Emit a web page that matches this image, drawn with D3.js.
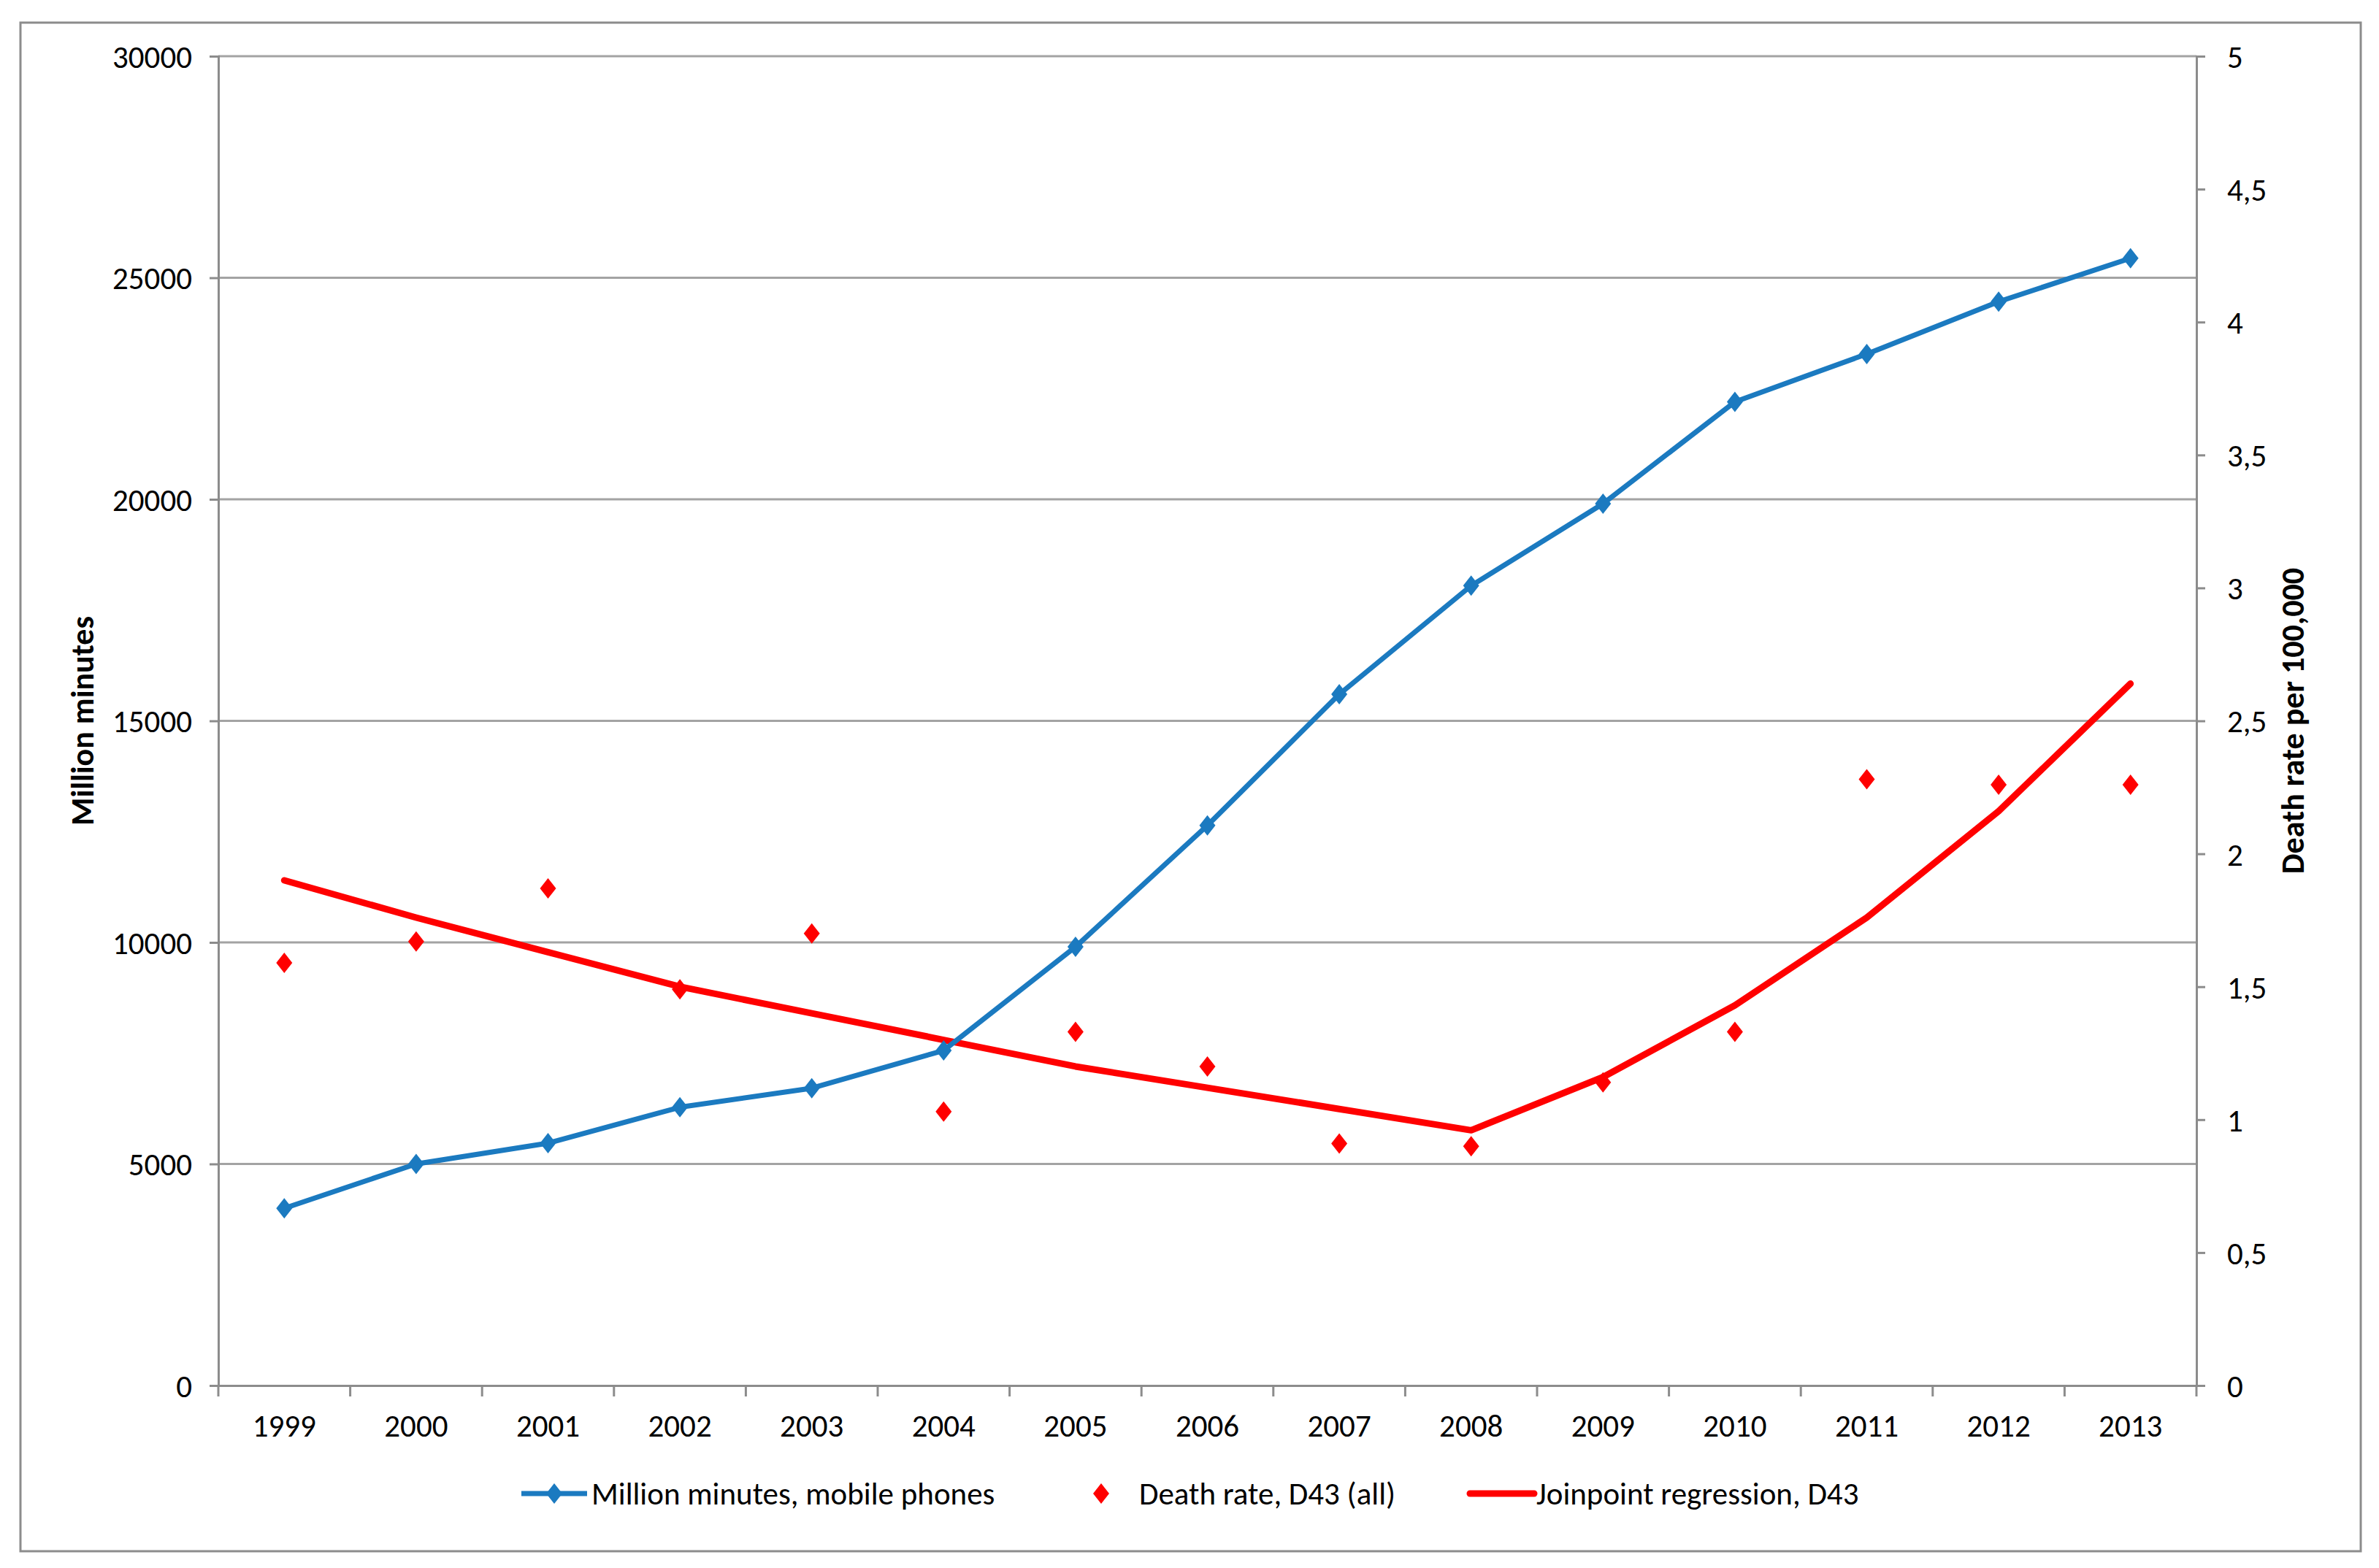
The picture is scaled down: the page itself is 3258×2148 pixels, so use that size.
<!DOCTYPE html>
<html>
<head>
<meta charset="utf-8">
<script src="https://cdn.jsdelivr.net/npm/d3@7"></script>
<style>
  body { margin: 0; background: #fff; }
  text { font-family: Carlito, Calibri, Lato, sans-serif; fill: #000; }
</style>
</head>
<body>
<div id="chart"></div>
<script>
// values
var years = ["1999","2000","2001","2002","2003","2004","2005","2006","2007","2008","2009","2010","2011","2012","2013"];
var minutes = [4000, 5000, 5470, 6280, 6710, 7560, 9900, 12640, 15600, 18050, 19900, 22200, 23280, 24460, 25440];
var deathRate = [1.59, 1.67, 1.87, 1.49, 1.70, 1.03, 1.33, 1.20, 0.91, 0.90, 1.14, 1.33, 2.28, 2.26, 2.26];
var joinpoint = [1.90, 1.76, 1.63, 1.50, 1.40, 1.30, 1.20, 1.12, 1.04, 0.96, 1.16, 1.43, 1.76, 2.16, 2.64];
var leftTicks = [0, 5000, 10000, 15000, 20000, 25000, 30000];
var rightTicks = [0, 0.5, 1, 1.5, 2, 2.5, 3, 3.5, 4, 4.5, 5];
var legendLabels = ["Million minutes, mobile phones", "Death rate, D43 (all)", "Joinpoint regression, D43"];

var svgWidth = 3258;
var svgHeight = 2148;

var margin = { top: 77, right: 250, bottom: 250, left: 299 };
var width = svgWidth - margin.left - margin.right;
var height = svgHeight - margin.top - margin.bottom;

var blue = "#1b7ac0";
var red = "#ff0000";
var axisGrey = "#8c8c8c";
var fontSize = 43;

var svg = d3.select("#chart")
  .append("svg")
  .attr("width", svgWidth)
  .attr("height", svgHeight);

svg.append("rect")
  .attr("width", svgWidth).attr("height", svgHeight)
  .attr("fill", "#fff");

// outer chart border
svg.append("rect")
  .attr("x", 28).attr("y", 31)
  .attr("width", 3205).attr("height", 2094)
  .attr("fill", "none")
  .attr("stroke", axisGrey)
  .attr("stroke-width", 3);

var chartGroup = svg.append("g")
  .attr("transform", `translate(${margin.left}, ${margin.top})`);

// scales
var xBand = d3.scaleBand().domain(years).range([0, width]).padding(0);
var yLeft = d3.scaleLinear().domain([0, 30000]).range([height, 0]);
var yRight = d3.scaleLinear().domain([0, 5]).range([height, 0]);

// gridlines
chartGroup.append("g")
  .selectAll("line")
  .data(leftTicks.filter(d => d > 0))
  .enter()
  .append("line")
  .attr("x1", 0).attr("x2", width)
  .attr("y1", d => yLeft(d)).attr("y2", d => yLeft(d))
  .attr("stroke", "#a3a3a3")
  .attr("stroke-width", 3);

// left axis
var leftAxis = d3.axisLeft(yLeft).tickValues(leftTicks).tickSize(12).tickPadding(24).tickFormat(d => String(d));
var yAxisL = chartGroup.append("g").call(leftAxis);

// right axis
var rightAxis = d3.axisRight(yRight).tickValues(rightTicks).tickSize(12).tickPadding(30)
  .tickFormat(d => String(d).replace(".", ","));
var yAxisR = chartGroup.append("g")
  .attr("transform", `translate(${width}, 0)`)
  .call(rightAxis);

// bottom axis: labels at category centres, ticks at category edges
var bottomAxis = d3.axisBottom(xBand).tickSize(0).tickPadding(44);
var xAxis = chartGroup.append("g")
  .attr("transform", `translate(0, ${height})`)
  .call(bottomAxis);

var edgeScale = d3.scaleLinear().domain([0, years.length]).range([0, width]);
xAxis.append("g")
  .selectAll("line")
  .data(d3.range(0, years.length + 1))
  .enter()
  .append("line")
  .attr("x1", d => edgeScale(d)).attr("x2", d => edgeScale(d))
  .attr("y1", 0).attr("y2", 15)
  .attr("stroke", axisGrey)
  .attr("stroke-width", 3);

[yAxisL, yAxisR, xAxis].forEach(function(ax) {
  ax.selectAll("path.domain").attr("stroke", axisGrey).attr("stroke-width", 3);
  ax.selectAll(".tick line").attr("stroke", axisGrey).attr("stroke-width", 3);
  ax.selectAll(".tick text")
    .attr("font-size", fontSize)
    .attr("font-family", "Carlito, Calibri, Lato, sans-serif")
    .attr("fill", "#000");
});
yAxisL.selectAll(".tick text").attr("dy", "0.36em");
yAxisR.selectAll(".tick text").attr("dy", "0.36em");
xAxis.selectAll(".tick text").attr("dy", "0.6em");

// axis titles
svg.append("text")
  .attr("transform", `translate(128, ${margin.top + height / 2}) rotate(-90)`)
  .attr("text-anchor", "middle")
  .attr("font-size", 44)
  .attr("font-weight", "bold")
  .text("Million minutes");

svg.append("text")
  .attr("transform", `translate(3155, ${margin.top + height / 2}) rotate(-90)`)
  .attr("text-anchor", "middle")
  .attr("font-size", 44)
  .attr("font-weight", "bold")
  .text("Death rate per 100,000");

var xc = d => xBand(years[d]) + xBand.bandwidth() / 2;

function diamond(w, h) {
  return `M0,${-h / 2}L${w / 2},0L0,${h / 2}L${-w / 2},0Z`;
}

// joinpoint regression line
var jpLine = d3.line()
  .x((d, i) => xc(i))
  .y(d => yRight(d));

chartGroup.append("path")
  .datum(joinpoint)
  .attr("d", jpLine)
  .attr("fill", "none")
  .attr("stroke", red)
  .attr("stroke-width", 9)
  .attr("stroke-linejoin", "round")
  .attr("stroke-linecap", "round");

// minutes line
var minLine = d3.line()
  .x((d, i) => xc(i))
  .y(d => yLeft(d));

chartGroup.append("path")
  .datum(minutes)
  .attr("d", minLine)
  .attr("fill", "none")
  .attr("stroke", blue)
  .attr("stroke-width", 7)
  .attr("stroke-linejoin", "round");

chartGroup.append("g")
  .selectAll("path")
  .data(minutes)
  .enter()
  .append("path")
  .attr("d", diamond(22, 28))
  .attr("transform", (d, i) => `translate(${xc(i)}, ${yLeft(d)})`)
  .attr("fill", blue);

// death rate points
chartGroup.append("g")
  .selectAll("path")
  .data(deathRate)
  .enter()
  .append("path")
  .attr("d", diamond(22, 28))
  .attr("transform", (d, i) => `translate(${xc(i)}, ${yRight(d)})`)
  .attr("fill", red);

// legend
var legendY = 2046;
var legend = svg.append("g");

legend.append("line")
  .attr("x1", 714).attr("x2", 804)
  .attr("y1", legendY).attr("y2", legendY)
  .attr("stroke", blue).attr("stroke-width", 7);
legend.append("path")
  .attr("d", diamond(22, 28))
  .attr("transform", `translate(759, ${legendY})`)
  .attr("fill", blue);
legend.append("text")
  .attr("x", 810).attr("y", legendY)
  .attr("dy", "0.36em")
  .attr("font-size", fontSize)
  .text(legendLabels[0]);

legend.append("path")
  .attr("d", diamond(22, 28))
  .attr("transform", `translate(1508, ${legendY})`)
  .attr("fill", red);
legend.append("text")
  .attr("x", 1560).attr("y", legendY)
  .attr("dy", "0.36em")
  .attr("font-size", fontSize)
  .text(legendLabels[1]);

legend.append("line")
  .attr("x1", 2013).attr("x2", 2101)
  .attr("y1", legendY).attr("y2", legendY)
  .attr("stroke", red).attr("stroke-width", 9)
  .attr("stroke-linecap", "round");
legend.append("text")
  .attr("x", 2104).attr("y", legendY)
  .attr("dy", "0.36em")
  .attr("font-size", fontSize)
  .text(legendLabels[2]);
</script>
</body>
</html>
